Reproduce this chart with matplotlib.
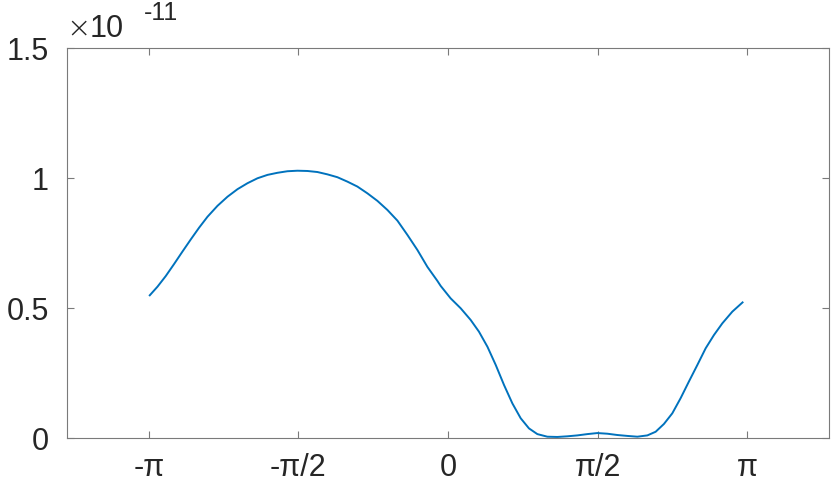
import matplotlib
matplotlib.use('Agg')
import matplotlib.pyplot as plt
import numpy as np

# curve, y in units of 1e-11
x_vals = [-3.138, -3.050, -2.963, -2.876, -2.788, -2.700, -2.613, -2.525, -2.420, -2.315,
          -2.210, -2.105, -2.000, -1.895, -1.791, -1.686, -1.581, -1.476, -1.371, -1.266,
          -1.161, -1.056, -0.951, -0.846, -0.741, -0.636, -0.531, -0.426, -0.321, -0.216,
          -0.111, -0.077, 0.028, 0.133, 0.238, 0.325, 0.414, 0.501, 0.588, 0.676,
          0.763, 0.850, 0.938, 1.043, 1.148, 1.253, 1.358, 1.463, 1.568, 1.673,
          1.778, 1.883, 1.988, 2.093, 2.180, 2.267, 2.355, 2.442, 2.529, 2.618,
          2.705, 2.792, 2.880, 2.985, 3.100]
y_vals = [0.546, 0.582, 0.623, 0.669, 0.717, 0.764, 0.809, 0.851, 0.893, 0.928,
          0.957, 0.980, 0.999, 1.012, 1.020, 1.026, 1.028, 1.027, 1.023, 1.014,
          1.003, 0.986, 0.967, 0.941, 0.912, 0.877, 0.836, 0.781, 0.723, 0.658,
          0.604, 0.585, 0.537, 0.499, 0.454, 0.409, 0.351, 0.281, 0.204, 0.133,
          0.076, 0.037, 0.015, 0.005, 0.004, 0.0065, 0.010, 0.015, 0.019, 0.0165,
          0.0115, 0.008, 0.005, 0.010, 0.024, 0.054, 0.095, 0.153, 0.217, 0.281,
          0.345, 0.396, 0.441, 0.486, 0.524]
scale = 1e-11

xticks = [-np.pi, -np.pi/2, 0, np.pi/2, np.pi]
xtick_labels = ['-π', '-π/2', '0', 'π/2', 'π']
yticks = [0, 0.5, 1, 1.5]
ytick_labels = ['0', '0.5', '1', '1.5']

plt.rcParams['font.family'] = ['Liberation Sans', 'DejaVu Sans']
txt = '#262626'
axc = '#7a7a7a'

fig = plt.figure(figsize=[8.31, 4.86], dpi=100)
ax = fig.add_axes([67/831, 48/486, 762/831, 390/486])

ax.plot(x_vals, np.array(y_vals)*scale, '-', color='#0072BD', linewidth=1.4,
        solid_joinstyle='round', solid_capstyle='butt')

ax.set_xlim(-4, 4)
ax.set_ylim(0, 1.5*scale)
ax.set_xticks(xticks)
ax.set_xticklabels(xtick_labels)
ax.set_yticks([v*scale for v in yticks])
ax.set_yticklabels(ytick_labels)

for s in ax.spines.values():
    s.set_color(axc)
    s.set_linewidth(0.8)
ax.tick_params(direction='in', length=5, width=0.8, color=axc, labelcolor=txt,
               labelsize=22, top=True, right=True)
ax.tick_params(axis='y', pad=13)
ax.tick_params(axis='x', pad=11)

# exponent label like matlab
fig.text(66/831, 1-37/486, '×', fontsize=21, color=txt, ha='left', va='baseline',
         family='DejaVu Sans', fontweight='light')
fig.text(90/831, 1-37/486, '10', fontsize=22, color=txt, ha='left', va='baseline')
fig.text(144/831, 1-20/486, '-11', fontsize=18, color=txt, ha='left', va='baseline')

plt.savefig('out.png')
